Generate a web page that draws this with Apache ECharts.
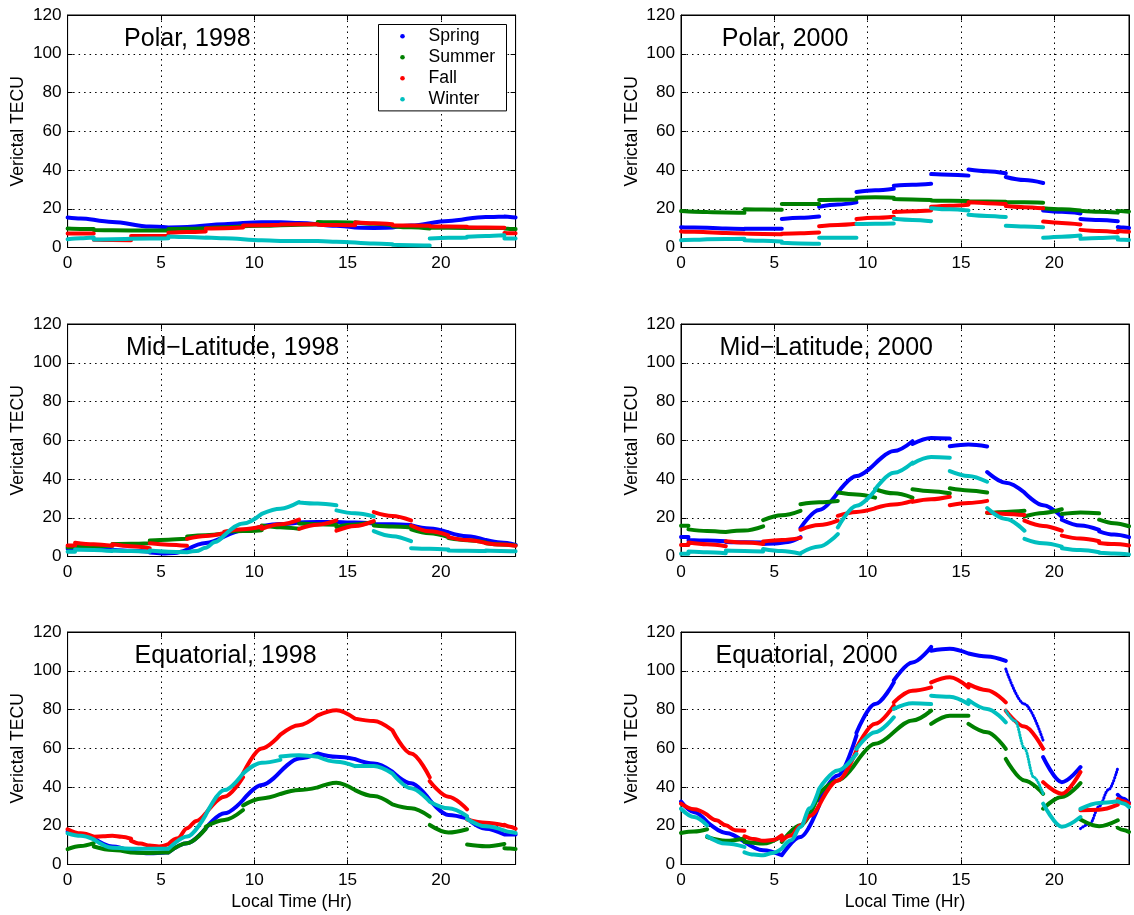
<!DOCTYPE html>
<html>
<head>
<meta charset="utf-8">
<script src="https://cdn.jsdelivr.net/npm/echarts@6/dist/echarts.min.js"></script>
<style>html,body{margin:0;padding:0;background:#fff}#c{width:1134px;height:915px}</style>
</head>
<body>
<div id="c"></div>
<script>
// ---------- data ----------
const seasons = ['Spring', 'Summer', 'Fall', 'Winter'];
const seasonColors = ['#0000ff', '#008000', '#ff0000', '#00bfbf'];
const xTickStep = 5;   // 0,5,10,15,20
const yTickStep = 20;  // 0..120
// 2-hour bin edges (Local Time, hr); each bin is drawn as its own segment
const oddBins  = [0, 1.4, 3.4, 5.4, 7.4, 9.4, 11.4, 13.4, 15.4, 17.4, 19.4, 21.4, 23.4, 24];
const evenBins = [0, 0.4, 2.4, 4.4, 6.4, 8.4, 10.4, 12.4, 14.4, 16.4, 18.4, 20.4, 22.4, 24];

// each inner array = TEC values evenly spaced across one bin
const polar98Spring = [[15.5,15,14.3],[14.3,13.2,12],[12,10.8,10.3],[10.3,10.6,11.3],[11.3,12,12.6],[12.6,13,13],[13,12.6,12],[12,11.2,10.3],[10.3,10.1,10.3],[10.3,11.3,12.5],[12.5,13.7,14.8],[14.8,15.7,16],[16,15.8,15.5]];
const polar98Summer = [[9.8,9.6,9.5],[9,8.9,8.8],[8.8,8.8,8.8],[9.5,9.7,10],[10,10.5,11],[11,11.2,11.5],[11.5,11.8,12],[13.2,13,12.8],[13,12.2,11.5],[11,10.4,9.8],[10.3,10.2,10.1],[10.2,10.1,10],[9.8,9.6,9.5]];
const polar98Fall   = [[7.2,7.2,7.2],[4,3.9,3.8],[5.9,5.9,5.9],[7.6,8,8.3],[9.8,10,10.3],[11.4,11.5,11.7],[11.9,12,12],[11.8,11.6,11.5],[12.9,12.5,12],[11.5,11.3,11.2],[11,10.8,10.7],[10.5,10.3,10.2],[7.5,7.4,7.4]];
const polar98Winter = [[4.3,4.8,5.2],[4.1,4.3,4.5],[4.5,4.6,4.8],[5.7,5.4,5],[5.2,4.8,4.3],[4.3,3.8,3.4],[3.3,3.3,3.3],[3.4,3,2.6],[2.6,2.1,1.7],[1.4,1.2,1],[4.7,5,5.2],[5.5,5.9,6.3],[4.6,4.6,4.6]];

const polar00Spring = [[10.5,10.3,10.2],[10.2,9.8,9.5],[9.7,9.7,9.7],[14.7,15.3,16],[21,22.2,23.3],[28.6,29.5,30.3],[31.9,32.4,32.9],[37.9,37.6,37.1],[40.3,39.4,38.3],[36.4,34.8,33.3],[19.1,18.4,17.6],[14.7,14.2,13.5],[10.6,10.3,10.1]];
const polar00Summer = [[18.8,18.5,18.3],[18.3,18.1,17.9],[19.7,19.6,19.5],[22.4,22.4,22.4],[24.5,24.7,24.8],[25.7,25.9,25.7],[25,24.8,24.5],[24.3,24.1,24],[23.8,23.7,23.6],[23.4,23.3,23.1],[20.3,19.7,19.1],[19,18.5,18],[18.9,18.7,18.5]];
const polar00Fall   = [[8.3,8.1,7.9],[7.9,7.5,7.2],[7.2,7,6.9],[7.1,7.4,7.8],[11,11.6,12.2],[14.7,15.3,15.9],[18.3,18.7,19.1],[21,21.6,22.1],[23.3,22.9,22.4],[21.4,20.8,20.2],[13.4,12.7,11.9],[9.1,8.5,7.9],[8.6,8.3,8.1]];
const polar00Winter = [[3.8,4,4.3],[4.3,4.4,4.5],[3.8,3.5,3.1],[2.4,2.1,1.9],[5,5,5],[12.1,12.3,12.4],[14.8,14.2,13.6],[20.3,19.7,19.1],[16.9,16.3,15.7],[11.2,10.8,10.5],[5,5.6,6.2],[4.5,4.9,5.3],[4.1,4,3.9]];

const mid98Spring = [[4,4,4],[4,3.8,3.5],[3.5,3,2.5],[2,1.6,1.8,3.5],[3.6,7,10.3],[10.3,13.4,15.6],[15.6,16.8,17.6],[17.6,17.8,17.8],[17.8,17.5,17],[16.8,16.7,16.2],[16.2,14.5,12.5],[12.5,10.5,8.5],[8.5,7.2,6]];
const mid98Summer = [[4.8,4.9,5],[5.3,5.4,5.5],[6.4,6.6,6.9],[8.3,8.7,9.1],[10.3,11,11.7],[12.6,13.1,13.6],[16,15.1,14.3],[17,16.7,16.4],[15.3,16.5,17.8],[16,15.5,15],[14,12,10],[9.5,8.4,7.3],[6.8,6.2,5.7]];
const mid98Fall   = [[5.7,5.7,5.7],[7.1,6.3,5.5],[6.3,5.3,4.3],[6.8,6.1,5.5],[9.1,10.6,12.1],[12.8,14.1,15.5],[14.3,16.6,19],[14.3,16.4,18.6],[13.3,15.8,18.3],[22.9,20.9,18.6],[16,13,10.9],[10,8.5,7],[7,6.2,5.5]];
const mid98Winter = [[2.5,2.5,2.5],[3.6,3.4,2.8],[3.1,2.8,2.4],[3.1,2.5,2.2],[2.2,2.8,4.5,7.5,11],[11,17,22],[22,24.7,28.1],[27.9,27.3,26.4],[23.8,22.3,20.7],[13.1,10.5,7.9],[4.3,4,3.6],[3.1,3,2.8],[3.1,2.9,2.7]];

const mid00Spring = [[10.1,10.1,10.1],[8.5,8.2,7.9],[7.5,7.3,7.2],[6.5,6.7,7.5,10],[14.7,24,33],[33,41.5,47.9],[47.9,54.4,59.5],[58.1,61.2,60.9],[56.9,57.8,56.8],[43.6,38.1,33],[33,26.5,20.5],[19,16,13.7],[13,11.3,10]];
const mid00Summer = [[15.9,15.9,15.9],[14,13.2,12.6],[12.7,13.4,15.6],[18.8,21.3,23.6],[27,28,28.7],[33,32,30.4],[34.7,32.6,30.4],[34.7,33.7,32.6],[35.2,34.1,33],[22.4,23,23.6],[20.7,22.5,24.4],[21.9,22.7,22.3],[19,17.2,15.6]];
const mid00Fall   = [[6,6,6],[7.2,6.3,5.3],[7.9,7.2,6.5],[7.7,8.5,9.6],[13.8,16.2,18.5],[21,23,24.8],[25,26.8,28.7],[28.2,29.5,30.8],[26.5,27.6,28.7],[22.7,22,21.4],[18.5,15.8,13.3],[10.8,9.3,7.9],[7,6.4,5.7]];
const mid00Winter = [[1.4,1.4,1.4],[2.6,2.2,1.7],[3.1,2.9,2.6],[3.9,2.8,1.4],[1.7,5.1,11.6],[15,26.2,34.2],[34.7,43.2,48.4],[47.9,51.3,51],[44.1,41.6,38.6],[25,19.3,13.3],[9.1,6.8,5.1],[4.3,3.3,2.2],[1.9,1.5,1.0]];

const eq98Spring = [[17,15.5,13.6],[13.6,9.3,6.7],[6.7,5.8,6.3],[6.3,11,18.7],[18.7,26.4,33.3],[33.3,41,47.9],[47.9,54.7,57.3],[57.3,55.6,54.4],[54.4,52.1,47.9],[47.9,41.9,33.3],[33.3,25.6,23.8],[23.8,18.5,15.5],[15.5,15.5,15.5]];
const eq98Summer = [[7.9,9.5,11],[9.3,7.5,6.2],[6.2,6,6.3],[6.3,11,18.5],[19.5,23,28.1],[30.5,34.1,36.4],[36.4,38.4,39.8],[39.8,42.2,38.4],[38.4,35.3,31],[31,29,24.7],[20.4,16.5,18.2],[10.3,9.4,10.6],[8.4,8.2,8]];
const eq98Fall   = [[18.2,16.1,14.4],[14.3,14.6,14.8,14.3,13.3],[12.2,10.8,9.8,9.3,10.5],[10.5,13.5,18.7,22.5,26.4],[26.4,35,45],[47,59.9,67],[67,71.9,77],[77,79.6,75.3],[75.3,74.1,69.3],[69.3,57.3,45],[43,35,28.5],[23.2,21.5,20.1],[20.5,19.5,18.4]];
const eq98Winter = [[16.1,14.8,13],[13,8.7,8.1],[8.1,8.1,8.1],[8.1,14.4,25.6],[25.6,38.4,47],[47,52.5,54],[55.8,56.4,55.6],[55.6,53,50.8],[50.8,50.8,47],[47,39.3,32.4],[32.4,29,25],[23.5,19.7,17.5],[17.5,16.8,16.3]];

const eq00Spring = [[32.5,27,22],[22,16.3,11.7],[11.7,7.4,4.8],[4.8,14.2,30.5],[33,46,66.6],[68,82.8,94],[95,104.3,112.3],[110.3,111.3,108.9],[108.9,107.4,105.1],[100.9,82.8,64],[55.4,42.5,50.3],[18.5,21,30,38.6,49.8],[36,34,31.8]];
const eq00Summer = [[16.3,17,18.2],[14.2,12.2,13.4],[11.7,10.8,14.6],[11.7,20.2,36.5],[36.5,43.4,52.8],[52.8,62.3,68.3],[68.3,74.3,79.4],[72.6,76.8,76.8],[72.6,68.3,59.7],[54.5,43.4,36.5],[28.8,34.8,42],[23.2,19.7,22.8],[18.9,17.8,16.8]];
const eq00Fall   = [[31.4,28.5,25.7],[25.7,22.8,20.2,17.7,17.4],[14.6,13.2,12.2,12.6,15],[12.5,15,20.2,25,30.5],[30.5,43.4,58.8],[60,72.6,82],[83.7,89.7,91.4],[94,96.6,91.4],[93.1,90,83.7],[79.4,71.2,59.7],[42.5,36.5,47.7],[28,28.3,30.9],[33.8,32.6,31.4]];
const eq00Winter = [[28.8,24.5,20.2],[14.6,10.8,9.1],[6.3,5.1,4.8,6,8.2],[8.2,12.5,19.4,29,39.1],[39.1,48.5,57.1],[59.7,68.3,76],[80.3,83.2,82.8],[87.1,86.6,82.8],[84.9,80.3,73.4],[79.4,74,60,45,36.5],[31.4,19.5,24.5],[28.7,31.8,32.6],[32.6,31.5,29.7]];

// bins whose samples are so steep that the points appear as a sparse dotted trail
const eq00SpringSparse = [9, 11];
const eq00WinterSparse = [9];

const panelTitles = ['Polar, 1998', 'Polar, 2000', 'Mid\u2212Latitude, 1998', 'Mid\u2212Latitude, 2000', 'Equatorial, 1998', 'Equatorial, 2000'];
const panelBins = [oddBins, oddBins, evenBins, evenBins, oddBins, oddBins];
const panelSeries = [
  [polar98Spring, polar98Summer, polar98Fall, polar98Winter],
  [polar00Spring, polar00Summer, polar00Fall, polar00Winter],
  [mid98Spring, mid98Summer, mid98Fall, mid98Winter],
  [mid00Spring, mid00Summer, mid00Fall, mid00Winter],
  [eq98Spring, eq98Summer, eq98Fall, eq98Winter],
  [eq00Spring, eq00Summer, eq00Fall, eq00Winter]
];
const panelSparse = [
  [[], [], [], []], [[], [], [], []], [[], [], [], []], [[], [], [], []], [[], [], [], []],
  [eq00SpringSparse, [], [], eq00WinterSparse]
];

// ---------- layout ----------
const FONT = '"Liberation Sans", Arial, Helvetica, sans-serif';
const COL_LEFT = [67.6, 681];
const ROW_TOP = [15, 324, 632];
const GW = 448, GH = 232.5;
const titleOffset = [56.5, 40.8, 58.3, 38.6, 66.9, 34.5];   // px from panel's left edge
const TITLE_DY = 12;                                        // px below panel top
const TICK_FS = 17.2, NAME_FS = 17.6, TITLE_FS = 25, LEGEND_FS = 17.6;

function buildData(edges, segs, sparse, wantSparse) {
  const out = [];
  segs.forEach((vals, k) => {
    if (sparse.includes(k) !== wantSparse) return;
    const a = edges[k], b = edges[k + 1], n = vals.length;
    vals.forEach((v, i) => out.push([a + (b - a) * i / (n - 1), v]));
    out.push([b, '-']);
  });
  return out;
}

const grids = [], xAxes = [], yAxes = [], series = [], titles = [];
for (let i = 0; i < 6; i++) {
  const L = COL_LEFT[i % 2], T = ROW_TOP[Math.floor(i / 2)];
  grids.push({left: L, top: T, width: GW, height: GH, show: true,
    borderColor: '#000', borderWidth: 1, backgroundColor: 'rgba(0,0,0,0)'});
  titles.push({text: panelTitles[i], left: L + titleOffset[i], top: T + TITLE_DY, padding: 0,
    textStyle: {fontSize: TITLE_FS, fontWeight: 'normal', color: '#000', fontFamily: FONT}});
  const isBottom = i >= 4;
  xAxes.push({
    gridIndex: i, type: 'value', min: 0, max: 24, interval: xTickStep, position: 'bottom',
    axisLine: {show: true, onZero: false, lineStyle: {color: '#000', width: 1}},
    axisTick: {show: true, inside: true, length: 5, lineStyle: {color: '#000'}},
    axisLabel: {showMaxLabel: false, fontSize: TICK_FS, color: '#000', margin: 7, fontFamily: FONT},
    splitLine: {show: true, lineStyle: {type: [1.5, 4], color: '#000', width: 1}},
    name: isBottom ? 'Local Time (Hr)' : '', nameLocation: 'middle', nameGap: 29,
    nameTextStyle: {fontSize: NAME_FS, color: '#000', fontFamily: FONT}
  });
  xAxes.push({
    gridIndex: i, type: 'value', min: 0, max: 24, interval: xTickStep, position: 'top',
    axisLine: {show: true, onZero: false, lineStyle: {color: '#000', width: 1}},
    axisTick: {show: true, inside: true, length: 5, lineStyle: {color: '#000'}},
    axisLabel: {show: false}, splitLine: {show: false}
  });
  yAxes.push({
    gridIndex: i, type: 'value', min: 0, max: 120, interval: yTickStep, position: 'left',
    axisLine: {show: true, onZero: false, lineStyle: {color: '#000', width: 1}},
    axisTick: {show: true, inside: true, length: 5, lineStyle: {color: '#000'}},
    axisLabel: {fontSize: TICK_FS, color: '#000', margin: 6, fontFamily: FONT},
    splitLine: {show: true, lineStyle: {type: [1.5, 4], color: '#000', width: 1}},
    name: 'Verictal TECU', nameLocation: 'middle', nameGap: 40,
    nameTextStyle: {fontSize: NAME_FS, color: '#000', fontFamily: FONT}
  });
  yAxes.push({
    gridIndex: i, type: 'value', min: 0, max: 120, interval: yTickStep, position: 'right',
    axisLine: {show: true, onZero: false, lineStyle: {color: '#000', width: 1}},
    axisTick: {show: true, inside: true, length: 5, lineStyle: {color: '#000'}},
    axisLabel: {show: false}, splitLine: {show: false}
  });
  panelSeries[i].forEach((segs, s) => {
    const sparse = panelSparse[i][s];
    series.push({
      name: seasons[s], type: 'line', xAxisIndex: 2 * i, yAxisIndex: 2 * i,
      data: buildData(panelBins[i], segs, sparse, false), connectNulls: false,
      symbol: 'none', showSymbol: false, smooth: 0.35, smoothMonotone: 'x',
      itemStyle: {color: seasonColors[s]},
      lineStyle: {color: seasonColors[s], width: 4, cap: 'round', join: 'round'},
      emphasis: {disabled: true}, animation: false, z: 2 + s
    });
    if (sparse.length) {
      series.push({
        name: seasons[s], type: 'line', xAxisIndex: 2 * i, yAxisIndex: 2 * i,
        data: buildData(panelBins[i], segs, sparse, true), connectNulls: false,
        symbol: 'none', showSymbol: false, smooth: 0.35, smoothMonotone: 'x',
        itemStyle: {color: seasonColors[s]},
        lineStyle: {color: seasonColors[s], width: 3, type: [0.5, 2.4], cap: 'round', join: 'round'},
        emphasis: {disabled: true}, animation: false, z: 2 + s
      });
    }
  });
}

// legend box drawn inside the first panel (upper right corner)
const LG = {x: COL_LEFT[0] + 310.4, y: ROW_TOP[0] + 8.6, w: 128, h: 86.4,
            dotDx: 24.5, textDx: 50.6, row0: 12.7, rowStep: 21};
const legendEls = [{type: 'rect', z: 100,
  shape: {x: Math.round(LG.x) + 0.5, y: Math.round(LG.y) + 0.5, width: LG.w, height: LG.h},
  style: {fill: '#fff', stroke: '#000', lineWidth: 1}}];
seasons.forEach((name, s) => {
  const cy = LG.y + LG.row0 + s * LG.rowStep;
  legendEls.push({type: 'circle', z: 101, shape: {cx: LG.x + LG.dotDx, cy: cy, r: 2.3},
    style: {fill: seasonColors[s]}});
  legendEls.push({type: 'text', z: 101, style: {text: name, x: LG.x + LG.textDx, y: cy,
    fill: '#000', font: LEGEND_FS + 'px ' + FONT, verticalAlign: 'middle', align: 'left'}});
});

const chart = echarts.init(document.getElementById('c'), null, {renderer: 'canvas'});
chart.setOption({
  animation: false,
  backgroundColor: '#fff',
  textStyle: {fontFamily: FONT},
  title: titles,
  grid: grids, xAxis: xAxes, yAxis: yAxes, series: series,
  graphic: legendEls
});
</script>
</body>
</html>
